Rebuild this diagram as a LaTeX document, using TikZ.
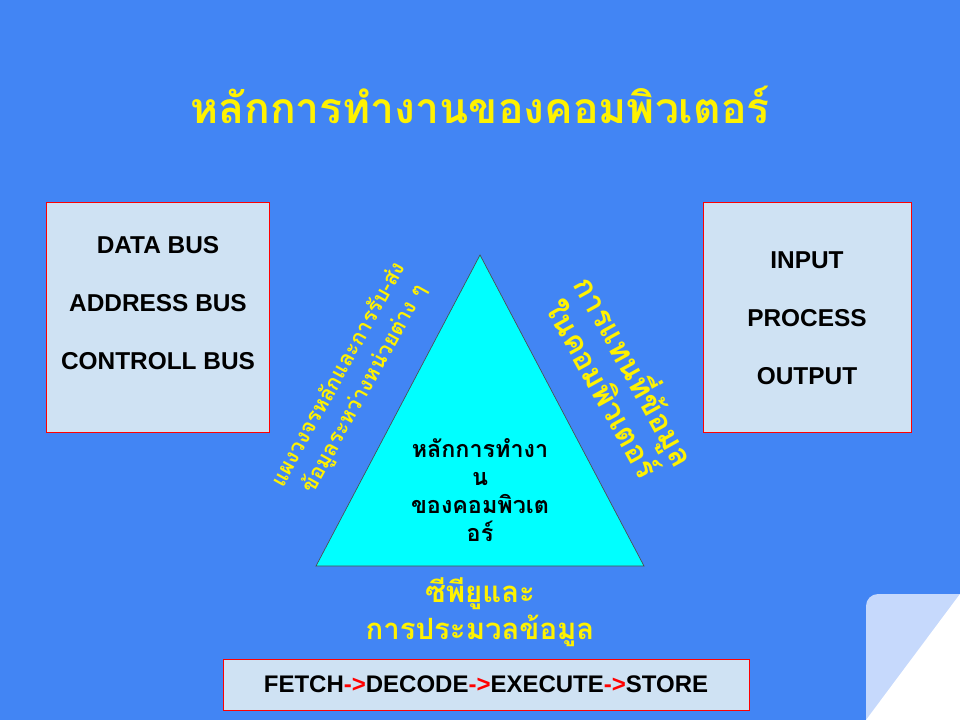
\documentclass[tikz,border=0pt]{standalone}
\usepackage{fontspec}
\setmainfont{Liberation Sans}
\newfontfamily\thaifont[Script=Thai]{Loma}
\usetikzlibrary{positioning}
\definecolor{slideblue}{RGB}{66,133,244}
\definecolor{boxblue}{RGB}{207,226,243}
\definecolor{curlblue}{RGB}{198,217,252}
\definecolor{coreblue}{RGB}{0,255,255}
\newcommand{\redarrow}{\textcolor{red}{->}}
\tikzset{
	node distance=43.5pt,
	busbox/.style={draw=red, fill=boxblue, line width=0.75pt, inner sep=0pt},
	buslabel/.style={font=\bfseries\fontsize{18.3}{20}\selectfont},
	slidetitle/.style={text=yellow, font=\thaifont\bfseries\fontsize{32}{36}\selectfont},
	coretext/.style={align=center, font=\thaifont\bfseries\fontsize{17.5}{21}\selectfont},
	sidetext/.style={text=yellow, align=center, font=\thaifont\bfseries\fontsize{16}{22}\selectfont},
	bigside/.style={text=yellow, align=center, font=\thaifont\bfseries\fontsize{23}{27}\selectfont},
}
\begin{document}
\begin{tikzpicture}[x=0.75pt, y=-0.75pt]
	\useasboundingbox[fill=slideblue] (0,0) rectangle (960,720);
	\fill[curlblue, rounded corners=9pt] (866,594) rectangle (1000,760);
	\fill[white] (960,594) -- (960,720) -- (866,720) -- cycle;
	
	\node[slidetitle] (title) at (480,105) {หลักการทำงานของคอมพิวเตอร์};
	
	\node[busbox, minimum width=167.25pt, minimum height=171.75pt] (busbox) at (157.5,317.5) {};
	\node[buslabel] (addr) at (158,303) {ADDRESS BUS};
	\node[buslabel, on grid, above=of addr] (data) {DATA BUS};
	\node[buslabel, on grid, below=of addr] (ctrl) {CONTROLL BUS};
	
	\node[busbox, minimum width=156pt, minimum height=171.75pt] (iobox) at (807,317.5) {};
	\node[buslabel] (proc) at (807,318) {PROCESS};
	\node[buslabel, on grid, above=of proc] (input) {INPUT};
	\node[buslabel, on grid, below=of proc] (output) {OUTPUT};
	
	\draw[fill=coreblue, draw=black!70, line width=0.5pt] (480,255) coordinate (apex) -- (644,566) coordinate (baseR) -- (316,566) coordinate (baseL) -- cycle;
	\node[coretext] (core) at (480,490) {หลักการทำงา\\น\\ของคอมพิวเต\\อร์};
	
	\node[sidetext, rotate=61] (bus) at (352,382) {แผงวงจรหลักและการรับ-ส่ง\\ข้อมูลระหว่างหน่วยต่าง ๆ};
	\node[bigside, rotate=-61] (repr) at (622,378) {การแทนที่ข้อมูล\\ในคอมพิวเตอร์};
	\node[bigside, font=\thaifont\bfseries\fontsize{22}{27.75}\selectfont] (cpu) at (480,612) {ซีพียูและ\\การประมวลข้อมูล};
	
	\node[busbox, buslabel, font=\bfseries\fontsize{18}{20}\selectfont, minimum width=394.5pt, minimum height=38.25pt] (cycle) at (486,684.5) {FETCH\redarrow DECODE\redarrow EXECUTE\redarrow STORE};
\end{tikzpicture}
\end{document}
